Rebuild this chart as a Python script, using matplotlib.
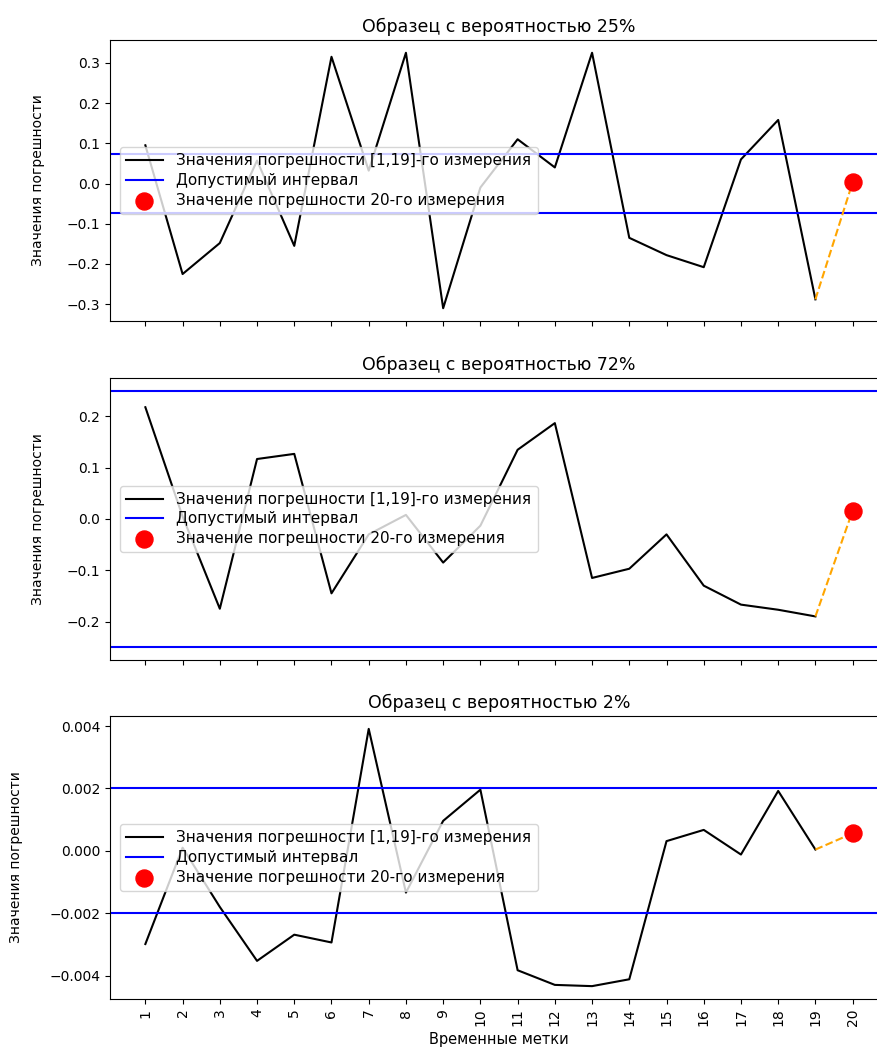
import matplotlib
matplotlib.use("Agg")
import matplotlib.pyplot as plt
import numpy as np

time_labels = [str(i) for i in range(1, 21)]
x_main = list(range(1, 20))

titles = ["Образец с вероятностью 25%", "Образец с вероятностью 72%", "Образец с вероятностью 2%"]

errors_25 = [0.095, -0.225, -0.148, 0.057, -0.155, 0.315, 0.032, 0.325, -0.31, -0.01,
             0.11, 0.04, 0.325, -0.135, -0.178, -0.208, 0.06, 0.158, -0.288]
last_25 = 0.003
limit_25 = 0.0745

errors_72 = [0.218, 0.005, -0.175, 0.117, 0.127, -0.145, -0.03, 0.008, -0.085, -0.013,
             0.135, 0.187, -0.115, -0.097, -0.03, -0.13, -0.167, -0.177, -0.19]
last_72 = 0.016
limit_72 = 0.25

errors_2 = [-0.00299, 0.0001, -0.0018, -0.00353, -0.00269, -0.00294, 0.00391, -0.00134, 0.00096, 0.00196,
            -0.00383, -0.0043, -0.00434, -0.00412, 0.00031, 0.00067, -0.00012, 0.00192, 0.00004]
last_2 = 0.00056
limit_2 = 0.002

series = [(errors_25, last_25, limit_25), (errors_72, last_72, limit_72), (errors_2, last_2, limit_2)]

W, H = 877, 1048
fig = plt.figure(figsize=(W / 100, H / 100), dpi=100)

tops = [40, 378, 716]
bottoms = [321, 660, 999]
left_px, right_px = 110, 888
ylabel_x_px = [45, 45, 23]

axes = []
for i, (errs, last, lim) in enumerate(series):
    ax = fig.add_axes([left_px / W, 1 - bottoms[i] / H, (right_px - left_px) / W, (bottoms[i] - tops[i]) / H])
    axes.append(ax)
    ax.plot(x_main, errs, color="black", lw=1.5, label="Значения погрешности [1,19]-го измерения")
    ax.axhline(lim, color="blue", lw=1.5, label="Допустимый интервал")
    ax.axhline(-lim, color="blue", lw=1.5)
    ax.plot([19, 20], [errs[-1], last], color="orange", ls="--", lw=1.5)
    ax.scatter([20], [last], color="red", s=150, zorder=5, label="Значение погрешности 20-го измерения")
    ax.set_title(titles[i], fontsize=12.5)
    ax.set_ylabel("Значения погрешности", fontsize=10)
    ax.yaxis.set_label_coords((ylabel_x_px[i] - left_px) / (right_px - left_px), 0.5)
    ax.set_xticks(range(1, 21))
    ax.set_xlim(0.05, 20.95)
    if i < 2:
        ax.set_xticklabels([])
    else:
        ax.set_xticklabels(time_labels, rotation=90)
        ax.set_xlabel("Временные метки", fontsize=10.5)
    ax.legend(loc="center left", fontsize=11, labelspacing=0.3, handlelength=2.4,
              handletextpad=0.9, borderaxespad=0.65)

axes[1].set_yticks([-0.2, -0.1, 0.0, 0.1, 0.2])
axes[2].set_yticks([-0.004, -0.002, 0.0, 0.002, 0.004])

fig.savefig("out.png", dpi=100)
